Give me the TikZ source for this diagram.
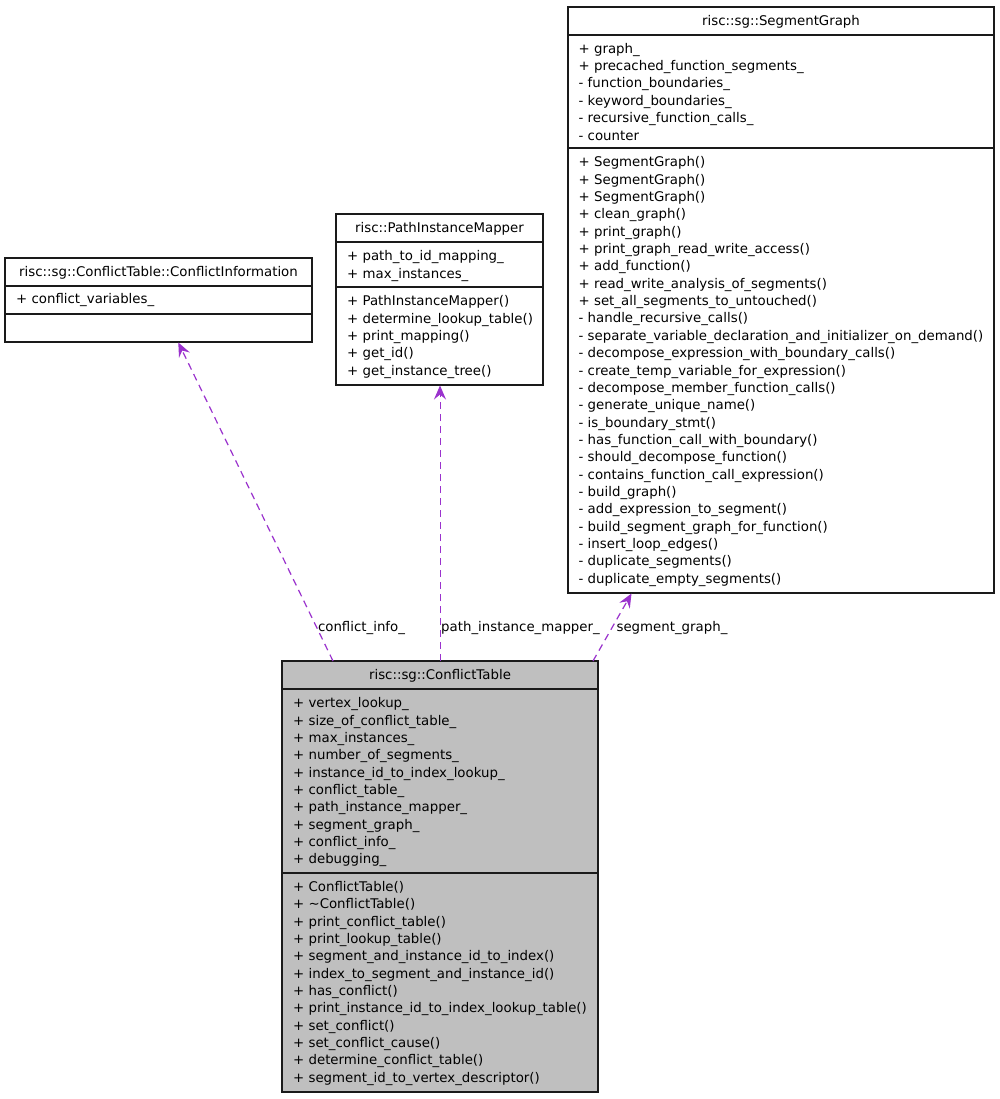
\documentclass[tikz,border=0pt]{standalone}
\usepackage{fontspec}
\setmainfont{DejaVu Sans}
\usetikzlibrary{arrows.meta,calc}
\definecolor{edgec}{HTML}{9A32CD}
\definecolor{ctfill}{HTML}{BFBFBF}
\definecolor{linec}{HTML}{1A1A1A}
\newcommand{\dfont}{\fontsize{13.33}{17.4}\selectfont}
\tikzset{
  umlbox/.style={draw=linec, line width=1.1pt, anchor=north west, inner sep=0pt, outer sep=0pt},
  sepline/.style={draw=linec, line width=1.1pt},
  ttl/.style={anchor=base, inner sep=0pt, font=\dfont},
  mem/.style={anchor=base west, inner sep=0pt, font=\dfont},
  lbl/.style={anchor=base, inner sep=0pt, font=\dfont},
  dep/.style={draw=edgec, line width=1.2pt, dash pattern=on 7pt off 5pt,
    -{Stealth[length=14pt,width=12pt,inset=5pt]}},
}
% \memlist{name}{x}{section top}{list}
\newcommand{\memlist}[4]{%
  \foreach \t [count=\i from 0] in {#4} {
    \node[mem] (#1-\i) at (#2, #3+18.8+17.35*\i) {\t};
  }%
}
\begin{document}
\begin{tikzpicture}[x=1pt,y=-1pt]
\useasboundingbox (0,0) rectangle (1000,1099);
\fill[white] (0,0) rectangle (1000,1099);

% ---------- ConflictInformation ----------
\node[umlbox, minimum width=307pt, minimum height=84pt] (ci) at (5,258) {};
\draw[sepline] (5,286) -- (312,286);
\draw[sepline] (5,314) -- (312,314);
\node[ttl] (ci-title) at (158.5,276.5) {risc::sg::ConflictTable::ConflictInformation};
\memlist{ciA}{16}{285}{+ conflict\_variables\_}

% ---------- PathInstanceMapper ----------
\node[umlbox, minimum width=207pt, minimum height=171pt] (pim) at (336,214) {};
\draw[sepline] (336,242) -- (543,242);
\draw[sepline] (336,287) -- (543,287);
\node[ttl] (pim-title) at (439.5,232.5) {risc::PathInstanceMapper};
\memlist{pimA}{347}{242}{+ path\_to\_id\_mapping\_, + max\_instances\_}
\memlist{pimM}{347}{287}{+ PathInstanceMapper(), + determine\_lookup\_table(), + print\_mapping(), + get\_id(), + get\_instance\_tree()}

% ---------- SegmentGraph ----------
\node[umlbox, minimum width=426pt, minimum height=586pt] (sg) at (568,7) {};
\draw[sepline] (568,35) -- (994,35);
\draw[sepline] (568,148) -- (994,148);
\node[ttl] (sg-title) at (781,25.5) {risc::sg::SegmentGraph};
\memlist{sgA}{578.5}{34.5}{+ graph\_, + precached\_function\_segments\_, - function\_boundaries\_, - keyword\_boundaries\_, - recursive\_function\_calls\_, - counter}
\memlist{sgM}{578.5}{148}{+ SegmentGraph(), + SegmentGraph(), + SegmentGraph(), + clean\_graph(), + print\_graph(), + print\_graph\_read\_write\_access(), + add\_function(), + read\_write\_analysis\_of\_segments(), + set\_all\_segments\_to\_untouched(), - handle\_recursive\_calls(), - separate\_variable\_declaration\_and\_initializer\_on\_demand(), - decompose\_expression\_with\_boundary\_calls(), - create\_temp\_variable\_for\_expression(), - decompose\_member\_function\_calls(), - generate\_unique\_name(), - is\_boundary\_stmt(), - has\_function\_call\_with\_boundary(), - should\_decompose\_function(), - contains\_function\_call\_expression(), - build\_graph(), - add\_expression\_to\_segment(), - build\_segment\_graph\_for\_function(), - insert\_loop\_edges(), - duplicate\_segments(), - duplicate\_empty\_segments()}

% ---------- ConflictTable ----------
\node[umlbox, fill=ctfill, minimum width=316pt, minimum height=431pt] (ct) at (282,661) {};
\draw[sepline] (282,689) -- (598,689);
\draw[sepline] (282,873) -- (598,873);
\node[ttl] (ct-title) at (440,679.5) {risc::sg::ConflictTable};
\memlist{ctA}{293}{689}{+ vertex\_lookup\_, + size\_of\_conflict\_table\_, + max\_instances\_, + number\_of\_segments\_, + instance\_id\_to\_index\_lookup\_, + conflict\_table\_, + path\_instance\_mapper\_, + segment\_graph\_, + conflict\_info\_, + debugging\_}
\memlist{ctM}{293}{872.5}{+ ConflictTable(), + \textasciitilde ConflictTable(), + print\_conflict\_table(), + print\_lookup\_table(), + segment\_and\_instance\_id\_to\_index(), + index\_to\_segment\_and\_instance\_id(), + has\_conflict(), + print\_instance\_id\_to\_index\_lookup\_table(), + set\_conflict(), + set\_conflict\_cause(), + determine\_conflict\_table(), + segment\_id\_to\_vertex\_descriptor()}

% ---------- edge end points ----------
\coordinate (ct-ci) at (333,661);
\coordinate (ct-pim) at (440,661);
\coordinate (ct-sg) at (593,661);
\coordinate (ci-in) at (178.3,342.5);
\coordinate (pim-in) at (440,385.5);
\coordinate (sg-in) at (631.5,593.5);

\draw[dep] (ct-ci) -- (ci-in);
\draw[dep, line width=1pt] (ct-pim) -- (pim-in);
\draw[dep] (ct-sg) -- (sg-in);

\node[lbl] (l-ci) at (361.5,631) {conflict\_info\_};
\node[lbl] (l-pim) at (520.5,631) {path\_instance\_mapper\_};
\node[lbl] (l-sg) at (672,631) {segment\_graph\_};
\end{tikzpicture}
\end{document}
